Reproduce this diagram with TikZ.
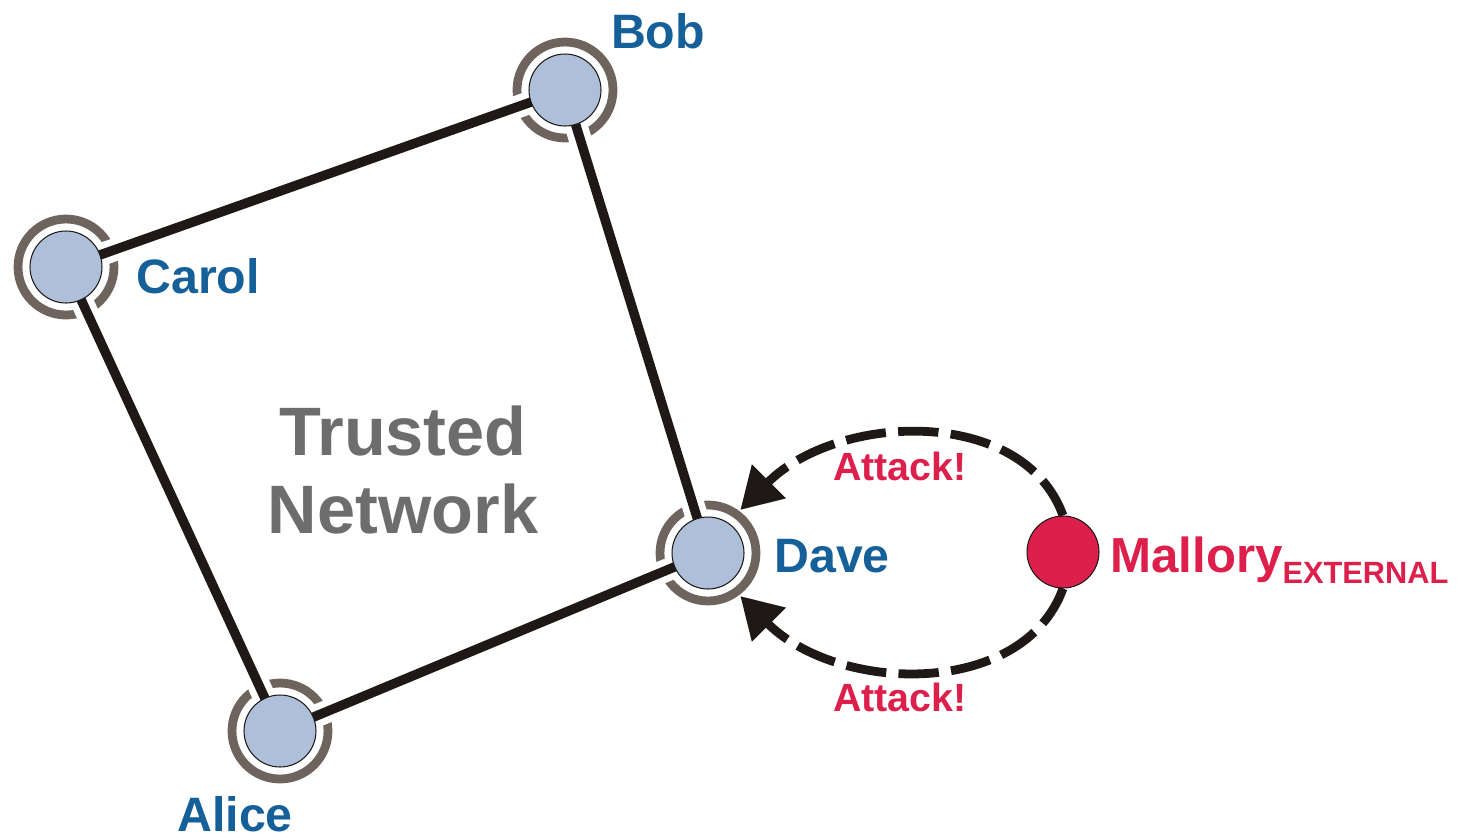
\documentclass[tikz,border=0pt]{standalone}
\usepackage{fontspec}
\setmainfont{Liberation Sans}
\usetikzlibrary{arrows.meta,backgrounds}

\definecolor{peerblue}{HTML}{AEBFD9}
\definecolor{ringgray}{HTML}{6F635D}
\definecolor{namecol}{HTML}{16609A}
\definecolor{attackred}{HTML}{DC1F4B}
\definecolor{edgeblack}{HTML}{1E1916}
\definecolor{netgray}{HTML}{6D6D6D}

\tikzset{
  peer/.style={circle, draw=edgeblack, line width=0.6pt, fill=peerblue,
    minimum size=1.44cm, inner sep=0pt},
  outsider/.style={peer, fill=attackred},
  ring/.style={draw=ringgray, line width=5pt},
  link/.style={draw=edgeblack, line width=5.4pt,
    preaction={draw=white, line width=13pt}},
  attack/.style={draw=edgeblack, line width=5pt, dash pattern=on 23pt off 7pt,
    shorten >=10pt, -{Triangle[length=23pt,width=26pt]}},
  peerlabel/.style={font=\bfseries\fontsize{27.5}{30}\selectfont, text=namecol, inner sep=0pt},
  attacklabel/.style={font=\bfseries\fontsize{22.4}{24}\selectfont, text=attackred, inner sep=0pt},
}

\begin{document}
\begin{tikzpicture}[x=0.02cm, y=-0.02cm]
  \useasboundingbox (0,0) rectangle (1477,839);

  % the four peers and the outsider
  \node[peer] (bob) at (565,90) {};
  \node[peer] (carol) at (66,267) {};
  \node[peer] (dave) at (708,553) {};
  \node[peer] (alice) at (280,731) {};
  \node[outsider] (mallory) at (1063,552) {};

  \node[peerlabel] (bobname) at (658,31) {Bob};
  \node[peerlabel, anchor=west] (carolname) at (136,276) {Carol};
  \node[peerlabel, anchor=west] (davename) at (774,556) {Dave};
  \node[peerlabel] (alicename) at (235,814) {Alice};
  \node[font=\bfseries\fontsize{39}{44.8}\selectfont, text=netgray, align=center, inner sep=0pt]
    (trusted) at (403,470) {Trusted\\Network};

  % rings and links sit under the peers
  \begin{scope}[on background layer]
    \foreach \p in {bob,carol,dave,alice}
      \draw[ring] (\p.center) circle[radius=0.96cm];
    \draw[link] (carol.center) -- (bob.center);
    \draw[link] (bob.center) -- (dave.center);
    \draw[link] (dave.center) -- (alice.center);
    \draw[link] (alice.center) -- (carol.center);
  \end{scope}

  % attacks on dave
  \draw[attack] (mallory.north) .. controls +(-40,-110) and +(110,-110) .. (dave.57);
  \draw[attack] (mallory.south) .. controls +(-40,110) and +(110,110) .. (dave.-57);
  \node[attacklabel] (attacktop) at (900,466) {Attack!};
  \node[attacklabel] (attackbottom) at (900,697) {Attack!};

  \node[font=\bfseries\fontsize{28}{30}\selectfont, text=attackred, inner sep=0pt, anchor=base west]
    (malloryname) at (1110,572) {Mallory\raisebox{-6.8pt}{\fontsize{17.5}{18}\selectfont EXTERNAL}};
\end{tikzpicture}
\end{document}
